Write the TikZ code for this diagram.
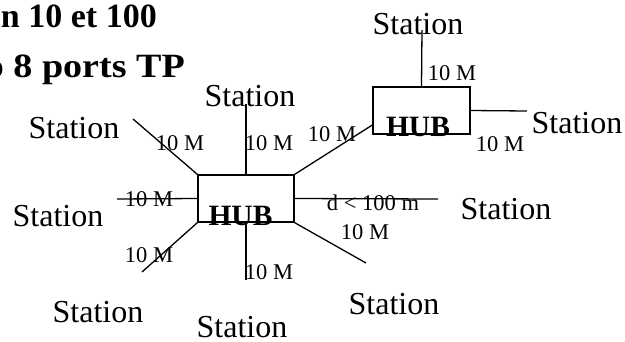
\documentclass[tikz,border=0pt]{standalone}
\usepackage{graphicx}
\usepackage{fontspec}
\setmainfont{Liberation Serif}
\begin{document}
\begin{tikzpicture}[x=1pt,y=-1pt,
  station/.style={inner sep=0pt,font=\fontsize{32}{38}\selectfont},
  speed/.style={inner sep=0pt,font=\fontsize{22.5}{27}\selectfont},
  hubbox/.style={draw,line width=1.3pt,inner sep=0pt},
  hubtext/.style={inner sep=0pt,font=\fontsize{29.5}{35}\selectfont\bfseries},
  titletext/.style={inner sep=0pt,font=\fontsize{34}{40}\selectfont\bfseries,anchor=base east},
  wire/.style={line width=1.3pt}]
\useasboundingbox (0,0) rectangle (625,341);
\clip (0,0) rectangle (625,341);
% title lines (cut at the left edge)
\node[titletext] (t1) at (157,27) {n 10 et 100};
\node[titletext] (t2) at (185,77) {\scalebox{1.12}[1]{o 8 ports TP}};
% hubs
\node[hubbox,minimum width=96pt,minimum height=47pt] (hubA) at (246,198.5) {};
\node[hubbox,minimum width=97pt,minimum height=47pt] (hubB) at (421.5,110.5) {};
\node[hubtext] (hubAt) at (240.5,215.5) {HUB};
\node[hubtext] (hubBt) at (418,126.5) {HUB};
% free ends of the wires
\coordinate (eUL) at (133,119);
\coordinate (eT) at (246,104);
\coordinate (eL) at (117,199);
\coordinate (eLL) at (142,272);
\coordinate (eB) at (246,280);
\coordinate (eR) at (438,199);
\coordinate (eLR) at (366,263);
\coordinate (fT) at (422,30);
\coordinate (fR) at (527,111);
% wires
\draw[wire] (hubA.north west) -- (eUL);
\draw[wire] (hubA.north) -- (eT);
\draw[wire] (hubA.west) -- (eL);
\draw[wire] (hubA.south west) -- (eLL);
\draw[wire] (hubA.south) -- (eB);
\draw[wire] (hubA.east) -- (eR);
\draw[wire] (hubA.south east) -- (eLR);
\draw[wire] (hubA.north east) -- ([yshift=-14.5pt]hubB.west);
\draw[wire] (hubB.north) -- (fT);
\draw[wire] (hubB.east) -- (fR);
% stations
\node[station] (s1) at (418,24) {Station};
\node[station] (s2) at (577,123) {Station};
\node[station] (s3) at (250,96) {Station};
\node[station] (s4) at (74,128) {Station};
\node[station] (s5) at (58,216) {Station};
\node[station] (s6) at (506,209) {Station};
\node[station] (s7) at (98,312) {Station};
\node[station] (s8) at (242,327) {Station};
\node[station] (s9) at (394,304) {Station};
% speeds
\node[speed] (m1) at (452,73) {10 M};
\node[speed] (m2) at (332,134) {10 M};
\node[speed] (m3) at (500,144) {10 M};
\node[speed] (m4) at (180,143) {10 M};
\node[speed] (m5) at (269,143) {10 M};
\node[speed] (m6) at (149,199) {10 M};
\node[speed] (m7) at (149,255) {10 M};
\node[speed] (m8) at (269,272) {10 M};
\node[speed] (m9) at (365,232) {10 M};
\node[speed] (d1) at (373,203) {d < 100 m};
\end{tikzpicture}
\end{document}
